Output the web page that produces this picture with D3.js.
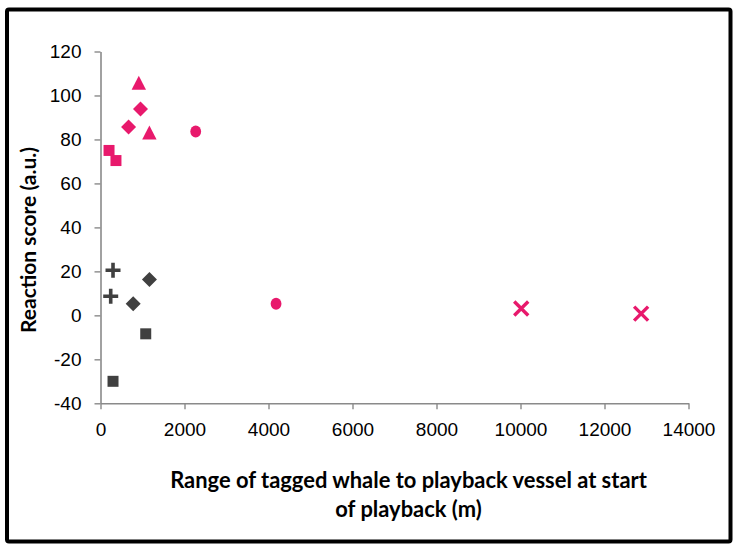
<!DOCTYPE html>
<html>
<head>
<meta charset="utf-8">
<script src="https://cdn.jsdelivr.net/npm/d3@7"></script>
<style>
  html, body { margin: 0; padding: 0; background: #fff; }
  svg { display: block; }
</style>
</head>
<body>
<div id="chart"></div>
<script>
// ---- Data ----
const xTicks = [0, 2000, 4000, 6000, 8000, 10000, 12000, 14000];
const yTicks = [-40, -20, 0, 20, 40, 60, 80, 100, 120];

const seriesNames = ["pinkSquare", "pinkDiamond", "pinkTriangle", "pinkCircle", "pinkCross",
                     "darkPlus", "darkDiamond", "darkSquare"];
const pinkSquareX   = [203, 368];     const pinkSquareY   = [75.0, 70.4];
const pinkDiamondX  = [668, 952];     const pinkDiamondY  = [85.7, 93.9];
const pinkTriangleX = [912, 1164];    const pinkTriangleY = [105.8, 83.2];
const pinkCircleX   = [2267, 4180];   const pinkCircleY   = [83.6, 5.3];
const pinkCrossX    = [10017, 12872]; const pinkCrossY    = [3.1, 0.8];
const darkPlusX     = [298, 243];     const darkPlusY     = [20.5, 8.7];
const darkDiamondX  = [1165, 779];    const darkDiamondY  = [16.3, 5.3];
const darkSquareX   = [1077, 298];    const darkSquareY   = [-8.4, -30.0];

const xTitle = ["Range of tagged whale to playback vessel at start", "of playback (m)"];
const yTitle = "Reaction score (a.u.)";

// ---- Styles ----
const PINK = "#E8196C", DARK = "#404040";
const style = {
  pinkSquare:   { shape: "square",   color: PINK },
  pinkDiamond:  { shape: "diamond",  color: PINK },
  pinkTriangle: { shape: "triangle", color: PINK },
  pinkCircle:   { shape: "circle",   color: PINK },
  pinkCross:    { shape: "x",        color: PINK },
  darkPlus:     { shape: "plus",     color: DARK },
  darkDiamond:  { shape: "diamond",  color: DARK },
  darkSquare:   { shape: "square",   color: DARK }
};
const values = {
  pinkSquare: [pinkSquareX, pinkSquareY], pinkDiamond: [pinkDiamondX, pinkDiamondY],
  pinkTriangle: [pinkTriangleX, pinkTriangleY], pinkCircle: [pinkCircleX, pinkCircleY],
  pinkCross: [pinkCrossX, pinkCrossY], darkPlus: [darkPlusX, darkPlusY],
  darkDiamond: [darkDiamondX, darkDiamondY], darkSquare: [darkSquareX, darkSquareY]
};

const W = 738, H = 549;
const svg = d3.select("#chart").append("svg").attr("width", W).attr("height", H);
svg.append("rect").attr("width", W).attr("height", H).attr("fill", "#fff");

// frame
svg.append("rect").attr("x", 7).attr("y", 9.5).attr("width", 723.5).attr("height", 532)
  .attr("fill", "none").attr("stroke", "#000").attr("stroke-width", 4).attr("rx", 2);

const x = d3.scaleLinear().domain([0, 14000]).range([100.5, 688.5]);
const y = d3.scaleLinear().domain([-40, 120]).range([403.3, 51.5]);

const axisColor = "#8a8a8a";
const tickFont = "'Liberation Sans', Arial, sans-serif";
const fmt = d => String(d);

const gx = svg.append("g").attr("transform", `translate(0,${y(-40)})`)
  .call(d3.axisBottom(x).tickValues(xTicks).tickFormat(fmt).tickSize(6).tickPadding(13).tickSizeOuter(0));
const gy = svg.append("g").attr("transform", `translate(${x(0)},0)`)
  .call(d3.axisLeft(y).tickValues(yTicks).tickFormat(fmt).tickSize(6).tickPadding(13).tickSizeOuter(0));

[gx, gy].forEach(g => {
  g.select(".domain").attr("stroke", axisColor).attr("stroke-width", 1.6);
  g.selectAll(".tick line").attr("stroke", axisColor).attr("stroke-width", 1.4);
  g.selectAll(".tick text").attr("fill", "#000").style("font-family", tickFont).style("font-size", "19px");
});

// markers
function shapePath(shape) {
  switch (shape) {
    case "square":   return "M-5.5,-5.5H5.5V5.5H-5.5Z";
    case "diamond":  return "M0,-7.5L7.5,0L0,7.5L-7.5,0Z";
    case "triangle": return "M0,-7L7.2,7H-7.2Z";
    default: return null;
  }
}
const gm = svg.append("g");
seriesNames.forEach(name => {
  const [xs, ys] = values[name];
  const st = style[name];
  const pts = xs.map((v, i) => ({ x: v, y: ys[i] }));
  const sel = gm.selectAll(null).data(pts).enter().append("g")
    .attr("transform", d => `translate(${x(d.x)},${y(d.y)})`);
  if (st.shape === "circle") {
    sel.append("ellipse").attr("rx", 5.4).attr("ry", 6).attr("fill", st.color);
  } else if (st.shape === "plus") {
    sel.append("path").attr("d", "M-7.5,0H7.5M0,-7.5V7.5")
      .attr("stroke", st.color).attr("stroke-width", 3.6).attr("fill", "none");
  } else if (st.shape === "x") {
    sel.append("path").attr("d", "M-7,-7L7,7M7,-7L-7,7")
      .attr("stroke", st.color).attr("stroke-width", 3.4).attr("fill", "none");
  } else {
    sel.append("path").attr("d", shapePath(st.shape)).attr("fill", st.color);
  }
});

// titles
const titleFont = "Lato, 'Open Sans', sans-serif";
function fitText(t, target, base) {
  const w = t.node().getComputedTextLength();
  t.style("font-size", (base * target / w).toFixed(2) + "px");
}
const t1 = svg.append("text").attr("x", 408.5).attr("y", 488).attr("text-anchor", "middle")
  .style("font-family", titleFont).style("font-weight", "bold").style("font-size", "20px")
  .attr("fill", "#000").text(xTitle[0]);
fitText(t1, 477, 20);
const fs = parseFloat(t1.style("font-size"));
svg.append("text").attr("x", 408.5).attr("y", 517).attr("text-anchor", "middle")
  .style("font-family", titleFont).style("font-weight", "bold").style("font-size", fs + "px")
  .attr("fill", "#000").text(xTitle[1]);
const ty = svg.append("text").attr("transform", "translate(36,240) rotate(-90)").attr("text-anchor", "middle")
  .style("font-family", titleFont).style("font-weight", "bold").style("font-size", "19px")
  .attr("fill", "#000").text(yTitle);
fitText(ty, 186, 19);
</script>
</body>
</html>
